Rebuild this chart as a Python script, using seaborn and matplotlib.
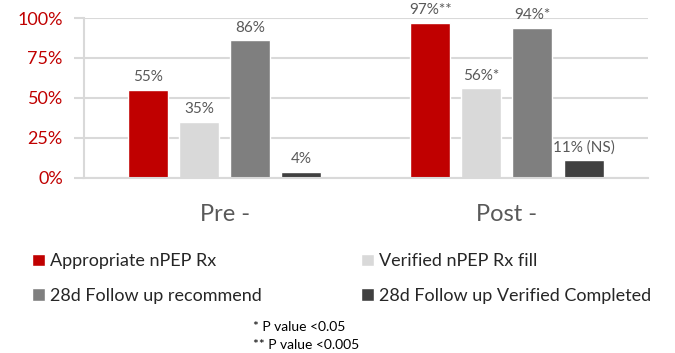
import pandas as pd
import matplotlib
matplotlib.use("Agg")
import matplotlib.pyplot as plt
import seaborn as sns

# Data
periods = ["Pre -", "Post -"]
measures = ["Appropriate nPEP Rx", "Verified nPEP Rx fill",
            "28d Follow up recommend", "28d Follow up Verified Completed"]
pre_values = [55, 35, 86, 4]
post_values = [97, 56, 94, 11]
pre_labels = ["55%", "35%", "86%", "4%"]
post_labels = ["97%**", "56%*", "94%*", "11% (NS)"]
colors = ["#C00000", "#D9D9D9", "#7F7F7F", "#404040"]
y_ticks = [0, 25, 50, 75, 100]
footnotes = ["* P value <0.05", "** P value <0.005"]

rows = []
for m, v in zip(measures, pre_values):
    rows.append({"period": periods[0], "measure": m, "value": v})
for m, v in zip(measures, post_values):
    rows.append({"period": periods[1], "measure": m, "value": v})
df = pd.DataFrame(rows)

sns.set_theme(style="white")
plt.rcParams["font.family"] = ["Lato", "DejaVu Sans"]

fig = plt.figure(figsize=(6.75, 3.53), dpi=100)
ax = fig.add_axes([0.124, 0.496, 0.836, 0.453])

sns.barplot(data=df, x="period", y="value", hue="measure", order=periods,
            hue_order=measures, palette=colors, width=0.724, gap=0.216,
            saturation=1, ax=ax, legend=True)

# bar labels
for i, cont in enumerate(ax.containers):
    labs = [pre_labels[i], post_labels[i]]
    ax.bar_label(cont, labels=labs, padding=4, fontsize=11, color="#595959")

ax.set_ylim(0, 100)
ax.set_xlim(-0.5, 1.5)
ax.set_yticks(y_ticks)
ax.set_yticklabels([f"{t}%" for t in y_ticks])
ax.yaxis.grid(True, color="#D9D9D9", linewidth=1.5)
ax.set_axisbelow(True)
ax.tick_params(axis="y", colors="#D9D9D9", labelcolor="#C00000",
               labelsize=13, length=7, width=1.5, left=True, pad=8)
ax.tick_params(axis="x", labelsize=17, labelcolor="#595959", length=0, pad=19)
ax.set_xlabel("")
ax.set_ylabel("")
for side in ["top", "right"]:
    ax.spines[side].set_visible(False)
for side in ["left", "bottom"]:
    ax.spines[side].set_color("#D9D9D9")
    ax.spines[side].set_linewidth(1.5)

handles, labels = ax.get_legend_handles_labels()
ax.get_legend().remove()

# legend laid out row-wise: two single-column legends
leg_kw = dict(loc="upper left", frameon=False, fontsize=13,
              handlelength=0.72, handleheight=0.67, handletextpad=0.25,
              labelspacing=1.05, borderaxespad=0, borderpad=0,
              labelcolor="#262626")
fig.legend([handles[0], handles[2]], [labels[0], labels[2]],
           bbox_to_anchor=(32 / 675, 1 - 253 / 353), **leg_kw)
fig.legend([handles[1], handles[3]], [labels[1], labels[3]],
           bbox_to_anchor=(361 / 675, 1 - 253 / 353), **leg_kw)

fig.text(253 / 675, 1 - 327 / 353, footnotes[0], fontsize=10,
         color="#000000", va="center")
fig.text(253 / 675, 1 - 345 / 353, footnotes[1], fontsize=10,
         color="#000000", va="center")

fig.savefig("out.png", dpi=100)
